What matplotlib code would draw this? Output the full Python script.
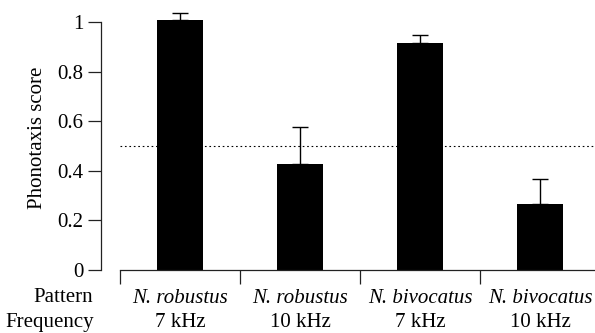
import matplotlib.pyplot as plt
import numpy as np

FONT = 'Liberation Serif'
plt.rcParams['font.family'] = 'serif'
plt.rcParams['font.serif'] = [FONT, 'DejaVu Serif']

# data
patterns = ['N. robustus', 'N. robustus', 'N. bivocatus', 'N. bivocatus']
freqs = ['7 kHz', '10 kHz', '7 kHz', '10 kHz']
scores = [1.008, 0.428, 0.918, 0.267]
errors = [0.030, 0.150, 0.031, 0.100]
chance = 0.5
yticks = [0, 0.2, 0.4, 0.6, 0.8, 1.0]
ytick_labels = ['0', '0.2', '0.4', '0.6', '0.8', '1']

fig = plt.figure(figsize=(5.95, 3.33), dpi=100, facecolor='white')
# axes runs past the right edge like the original
ax = fig.add_axes([120 / 595, 63 / 333, 480 / 595, 265 / 333])

x = np.arange(len(scores))
ax.bar(x, scores, width=46 / 120, color='black', zorder=2)
ax.errorbar(x, scores, yerr=[np.zeros(len(errors)), errors], fmt='none',
            ecolor='black', elinewidth=1, capsize=5.8, capthick=1, zorder=3)
ax.axhline(chance, color='black', linestyle=(0, (1.5, 2.5)), linewidth=0.8, zorder=4)

ax.set_xlim(-0.5, 3.5)
ax.set_ylim(0, 1.07)

for s in ['top', 'right']:
    ax.spines[s].set_visible(False)
ax.spines['left'].set_position(('outward', 13.7))
ax.spines['left'].set_bounds(0, 1)
for s in ['left', 'bottom']:
    ax.spines[s].set_linewidth(0.9)
    ax.spines[s].set_color('#222222')

ax.set_yticks(yticks)
ax.set_yticklabels(ytick_labels, family=FONT, fontsize=15)
ax.tick_params(axis='y', direction='out', length=9.4, width=0.9, color='#222222', pad=3)

ax.set_xticks([])
ax.set_xticks(np.arange(-0.5, 4.0, 1.0), minor=True)
ax.tick_params(axis='x', which='minor', direction='out', length=10, width=0.9,
               color='#222222', labelbottom=False)

ax.set_ylabel('Phonotaxis score', family=FONT, fontsize=15, labelpad=8)

for i in range(len(scores)):
    ax.annotate(patterns[i], xy=(x[i], 0), xycoords=('data', 'axes fraction'),
                xytext=(0, -20.5), textcoords='offset points', ha='center', va='center',
                family=FONT, fontsize=15, style='italic')
    ax.annotate(freqs[i], xy=(x[i], 0), xycoords=('data', 'axes fraction'),
                xytext=(0, -38), textcoords='offset points', ha='center', va='center',
                family=FONT, fontsize=15)

fig.text(33 / 595, 1 - 298 / 333, 'Pattern', family=FONT, fontsize=15,
         ha='left', va='center')
fig.text(5 / 595, 1 - 322 / 333, 'Frequency', family=FONT, fontsize=15,
         ha='left', va='center')

fig.savefig('out.png', dpi=100, facecolor='white')
